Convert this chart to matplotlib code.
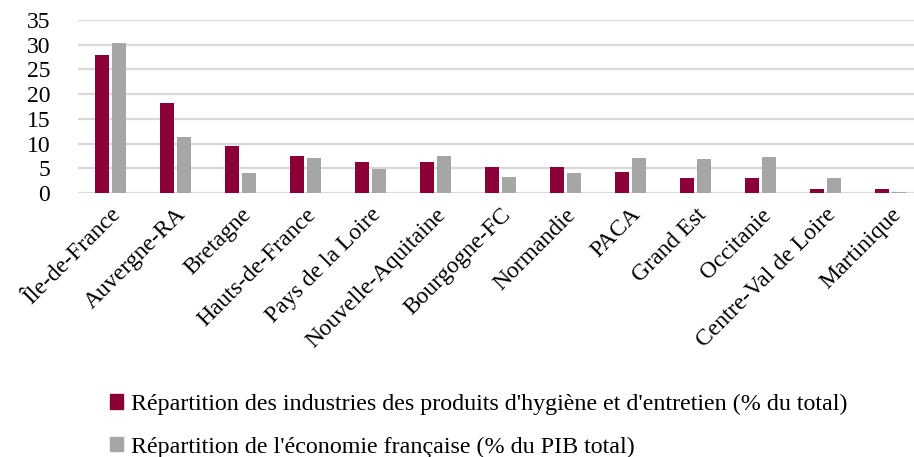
import numpy as np
import matplotlib.pyplot as plt
from matplotlib.patches import Patch

plt.rcParams['font.family'] = ['Liberation Serif', 'DejaVu Serif']

regions = ['Île-de-France', 'Auvergne-RA', 'Bretagne', 'Hauts-de-France', 'Pays de la Loire',
           'Nouvelle-Aquitaine', 'Bourgogne-FC', 'Normandie', 'PACA', 'Grand Est', 'Occitanie',
           'Centre-Val de Loire', 'Martinique']
hygiene = [27.9, 18.2, 9.6, 7.4, 6.3, 6.3, 5.3, 5.3, 4.2, 3.1, 3.1, 0.9, 0.9]
pib = [30.4, 11.3, 4.1, 7.0, 4.9, 7.4, 3.3, 4.1, 7.0, 6.8, 7.2, 3.1, 0.3]

lab1 = "Répartition des industries des produits d'hygiène et d'entretien (% du total)"
lab2 = "Répartition de l'économie française (% du PIB total)"
red = '#8B0037'
grey = '#A6A6A6'

fig = plt.figure(figsize=(9.14, 4.57), dpi=100)
ax = fig.add_axes([78 / 914, 1 - 193 / 457, 845 / 914, 173 / 457])

x = np.arange(len(regions))
w = 0.215
ax.bar(x - 0.138, hygiene, w, color=red, zorder=3)
ax.bar(x + 0.138, pib, w, color=grey, zorder=3)

ax.set_xlim(-0.5, len(regions) - 0.5)
ax.set_ylim(0, 35)
ax.set_yticks(range(0, 36, 5))
ax.yaxis.grid(True, color='#D9D9D9', linewidth=1.6, zorder=0)
for s in ax.spines.values():
    s.set_visible(False)
ax.tick_params(axis='both', length=0, labelsize=17)
ax.tick_params(axis='y', pad=20)
ax.set_xticks(x)
ax.set_xticklabels(regions, rotation=45, ha='right', va='top', rotation_mode='anchor')
ax.tick_params(axis='x', pad=8)

handles = [Patch(color=red), Patch(color=grey)]
fig.legend(handles, [lab1, lab2], loc='upper left', bbox_to_anchor=(100 / 914, 1 - 384 / 457),
           frameon=False, fontsize=17.3, handlelength=0.55, handleheight=0.55, handletextpad=0.35,
           labelspacing=0.9, borderaxespad=0)

fig.savefig('out.png', dpi=100)
